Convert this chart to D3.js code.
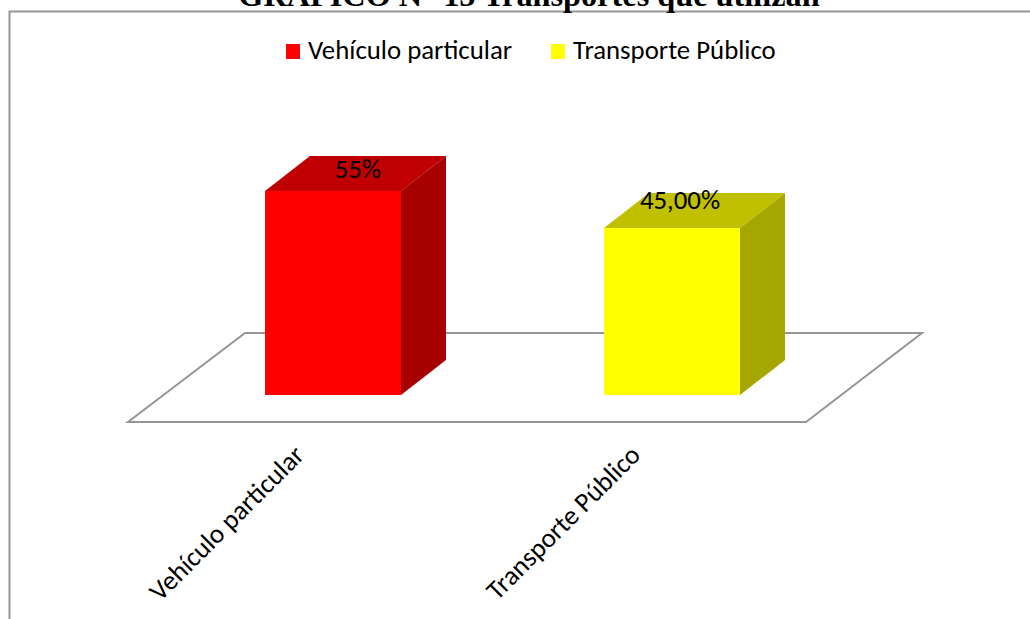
<!DOCTYPE html>
<html><head><meta charset="utf-8">
<script src="https://cdn.jsdelivr.net/npm/d3@7/dist/d3.min.js"></script>
<style>html,body{margin:0;padding:0;background:#fff}svg{display:block}</style>
</head><body><div id="c"></div>
<script>
const categories = ["Vehículo particular", "Transporte Público"];
const values = [55, 45];
const valueLabels = ["55%", "45,00%"];
const frontColors = ["#ff0000", "#ffff00"];
const topColors = ["#c00000", "#c0c000"];
const sideColors = ["#a60000", "#a6a600"];
const titleText = "GRÁFICO N° 15 Transportes que utilizan";

const W = 1030, H = 619;
const svg = d3.select("#c").append("svg").attr("width", W).attr("height", H);
const font = "Carlito, Calibri, 'Open Sans', 'Noto Sans', sans-serif";

// chart frame
svg.append("path").attr("d", "M9.5,619V11.5H1030").attr("fill", "none").attr("stroke", "#969696").attr("stroke-width", 2);

// title
svg.append("text").attr("x", 529).attr("y", 5.5).attr("text-anchor", "middle")
  .attr("font-family", "'Liberation Serif', serif").attr("font-weight", "bold").attr("font-size", 32.3)
  .attr("fill", "#000").text(titleText);

const y = d3.scaleLinear().domain([0, 55]).range([395, 191]);
const dx = 45, dy = -35;
const bw = 136;
const xPos = d3.scalePoint().domain(categories).range([333, 672]);
const labelDx = [25, 8], labelDy = [-13, -19];
const axisDx = [-42, -45];

// floor
svg.append("path").attr("d", "M128,422H806L922,333H245Z").attr("fill", "#fff").attr("stroke", "#969696").attr("stroke-width", 2);

const g = svg.selectAll("g.bar").data(categories).join("g").attr("class", "bar");
g.each(function (c, i) {
  const s = d3.select(this), l = xPos(c) - bw / 2, r = l + bw, t = y(values[i]), b = y(0);
  const line = d3.line();
  s.append("path").attr("d", line([[l, t], [r, t], [r + dx, t + dy], [l + dx, t + dy]]) + "Z").attr("fill", topColors[i]);
  s.append("path").attr("d", line([[r, t], [r + dx, t + dy], [r + dx, b + dy], [r, b]]) + "Z").attr("fill", sideColors[i]);
  s.append("rect").attr("x", l).attr("y", t).attr("width", bw).attr("height", b - t).attr("fill", frontColors[i]);
  s.append("text").attr("x", xPos(c) + labelDx[i]).attr("y", t + labelDy[i]).attr("text-anchor", "middle")
    .attr("font-family", font).attr("font-size", 26.8).attr("fill", "#000").text(valueLabels[i]);
  s.append("text").attr("transform", `translate(${xPos(c) + axisDx[i]},${442}) rotate(-45)`).attr("text-anchor", "end")
    .attr("dominant-baseline", "hanging")
    .attr("font-family", font).attr("font-size", 27).attr("fill", "#000").text(c);
});

// legend
const legendX = [286, 551], legendTextX = [308, 573];
categories.forEach((c, i) => {
  svg.append("rect").attr("x", legendX[i]).attr("y", 44).attr("width", 14).attr("height", 15).attr("fill", frontColors[i]);
  svg.append("text").attr("x", legendTextX[i]).attr("y", 59).attr("font-family", font).attr("font-size", 26.8).attr("fill", "#000").text(c);
});
</script></body></html>
